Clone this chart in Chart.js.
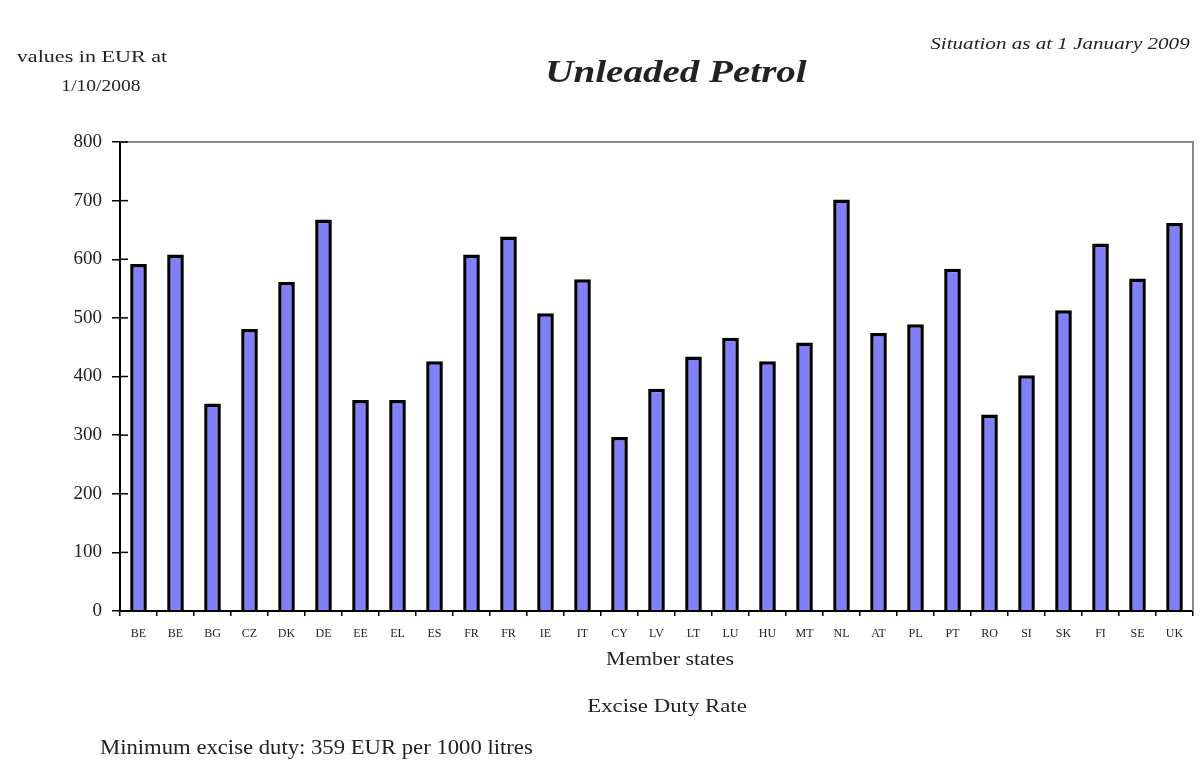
<!DOCTYPE html>
<html>
<head>
<meta charset="utf-8">
<script src="https://cdn.jsdelivr.net/npm/chart.js@4/dist/chart.umd.min.js"></script>
<style>
  body { margin: 0; background: #fff; font-family: "Liberation Serif", "Times New Roman", serif; color: #222; }
  #wrap { position: relative; width: 1203px; height: 767px; }
  .txt { position: absolute; white-space: nowrap; }
</style>
</head>
<body>
<div id="wrap">
  <canvas id="myChart" width="1203" height="767"></canvas>
  <div class="txt" style="left:92px; top:57px; font-size:17px; transform: translate(-50%,-50%) scaleX(1.3);">values in EUR at</div>
  <div class="txt" style="left:101px; top:86px; font-size:17px; transform: translate(-50%,-50%) scaleX(1.15);">1/10/2008</div>
  <div class="txt" style="left:676px; top:72px; font-size:31px; font-weight:bold; font-style:italic; transform: translate(-50%,-50%) scaleX(1.26);">Unleaded Petrol</div>
  <div class="txt" style="left:1060px; top:44px; font-size:17px; font-style:italic; transform: translate(-50%,-50%) scaleX(1.24);">Situation as at 1 January 2009</div>
  <div class="txt" style="left:670px; top:659px; font-size:19px; transform: translate(-50%,-50%) scaleX(1.15);">Member states</div>
  <div class="txt" style="left:667px; top:706px; font-size:19px; transform: translate(-50%,-50%) scaleX(1.2);">Excise Duty Rate</div>
  <div class="txt" style="left:100px; top:747px; font-size:21px; transform-origin: left center; transform: translate(0,-50%) scaleX(1.08);">Minimum excise duty: 359 EUR per 1000 litres</div>
</div>
<script>
// member states, in the order shown
const states = ["BE", "BE", "BG", "CZ", "DK", "DE", "EE", "EL", "ES", "FR", "FR", "IE", "IT", "CY",
    "LV", "LT", "LU", "HU", "MT", "NL", "AT", "PL", "PT", "RO", "SI", "SK", "FI", "SE", "UK"];
// excise duty rate, EUR per 1000 litres
const rates = [592, 608, 354, 481, 561, 668, 360, 360, 426, 608, 639, 508, 566, 297,
    379, 434, 466, 426, 458, 702, 474, 489, 584, 335, 402, 513, 627, 567, 662];
const yTicks = [0, 100, 200, 300, 400, 500, 600, 700, 800];

const serif = "'Liberation Serif', 'Times New Roman', serif";

// inner half of the y tick marks + grey top/right frame
const framePlugin = {
    id: "frame",
    afterDraw(chart) {
        const ctx = chart.ctx;
        const a = chart.chartArea;
        const y = chart.scales.y;
        ctx.save();
        ctx.strokeStyle = "#888";
        ctx.lineWidth = 2;
        ctx.beginPath();
        ctx.moveTo(a.left, a.top);
        ctx.lineTo(a.right, a.top);
        ctx.lineTo(a.right, a.bottom);
        ctx.stroke();
        ctx.strokeStyle = "#000";
        ctx.lineWidth = 1.5;
        yTicks.forEach(v => {
            const py = y.getPixelForValue(v);
            ctx.beginPath();
            ctx.moveTo(a.left, py);
            ctx.lineTo(a.left + 8, py);
            ctx.stroke();
        });
        ctx.restore();
    }
};

const ctx = document.getElementById("myChart").getContext("2d");
new Chart(ctx, {
    type: "bar",
    data: {
        labels: states,
        datasets: [{
            label: "Excise Duty Rate",
            data: rates,
            backgroundColor: "#8080ff",
            borderColor: "#000",
            borderWidth: 3.5,
            barPercentage: 0.45,
            categoryPercentage: 1.0,
        }]
    },
    options: {
        responsive: false,
        animation: false,
        layout: {
            padding: { top: 142, right: 10, left: 0, bottom: 126 }
        },
        plugins: {
            legend: { display: false },
            tooltip: { enabled: false },
        },
        scales: {
            x: {
                afterFit(scale) { scale.height = 30; },
                grid: {
                    display: true,
                    drawOnChartArea: false,
                    drawTicks: true,
                    tickLength: 5,
                    color: "#000",
                    lineWidth: 1.5,
                },
                border: { display: true, color: "#000", width: 2 },
                ticks: {
                    color: "#222",
                    padding: 11,
                    maxRotation: 0,
                    autoSkip: false,
                    font: { family: serif, size: 12 },
                },
            },
            y: {
                min: 0,
                max: 800,
                afterFit(scale) { scale.width = 120; },
                afterBuildTicks(scale) { scale.ticks = yTicks.map(v => ({ value: v })); },
                grid: {
                    display: true,
                    drawOnChartArea: false,
                    drawTicks: true,
                    tickLength: 8,
                    color: "#000",
                    lineWidth: 1.5,
                },
                border: { display: true, color: "#000", width: 2 },
                ticks: {
                    color: "#222",
                    padding: 10,
                    font: { family: serif, size: 19 },
                },
            }
        }
    },
    plugins: [framePlugin]
});
</script>
</body>
</html>
